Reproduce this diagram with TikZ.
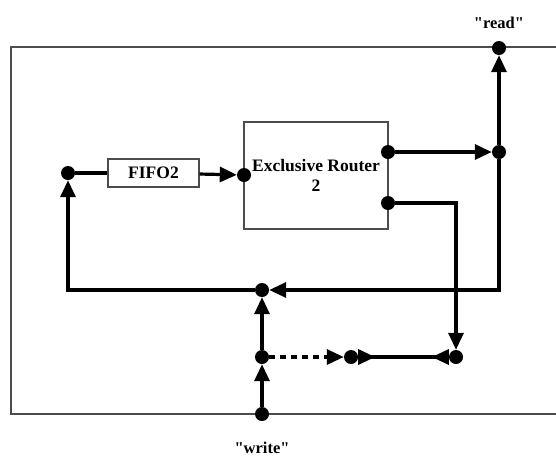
\documentclass[tikz,border=0pt]{standalone}
\usepackage{fontspec}
\newfontfamily\lblfont{Liberation Serif}
\usetikzlibrary{arrows.meta}

\begin{document}
\begin{tikzpicture}[x=1pt,y=-1pt,
  conn/.style={line width=3.2pt},
  tip/.style={-{Triangle[length=17pt,width=15pt]}},
  port/.style={circle,fill,inner sep=0pt,minimum size=14pt},
  blockbox/.style={draw=black!70,line width=1.3pt,fill=white,font=\lblfont\bfseries\fontsize{17.5}{20}\selectfont,align=center},
  every node/.append style={font=\lblfont\bfseries\fontsize{16.5}{19}\selectfont}]
  \useasboundingbox (0,0) rectangle (556,459);
  % outer frame, open on the right
  \draw[black!70,line width=1.3pt] (556,47) -- (11,47) -- (11,414) -- (556,414);

  \node[blockbox,minimum width=144pt,minimum height=107pt] (router) at (316,175.5) {Exclusive Router\\2};
  \node[blockbox,minimum width=91pt,minimum height=28pt] (fifo) at (153.5,173) {FIFO2};

  \node[port] (readpt) at (499,48) {};
  \node[above=16pt] at (readpt) {"read"};
  \node[port] (writept) at (262,414) {};
  \node[below=25pt] at (writept) {"write"};

  \node[port] (rin) at (244,175) {};
  \node[port] (rout1) at (388,152) {};
  \node[port] (rout2) at (388,203) {};
  \node[port] (rjoin) at (499,152) {};
  \node[port] (lpt) at (68,173) {};
  \node[port] (merge) at (262,290) {};
  \node[port] (mid) at (262,357) {};
  \node[port] (dpt) at (351,357) {};
  \node[port] (rpt) at (456,357) {};

  \draw[conn] (lpt) -- (fifo);
  \draw[conn,tip] (fifo) -- (rin);
  \draw[conn,tip] (rout1) -- (rjoin);
  \draw[conn,tip] (rjoin) -- (readpt);
  \draw[conn,tip] (rjoin) |- (merge);
  \draw[conn,tip] (merge) -| (lpt);
  \draw[conn,tip] (rout2) -| (rpt);
  \draw[conn,tip] (writept) -- (mid);
  \draw[conn,tip] (mid) -- (merge);
  \draw[conn,tip,dash pattern=on 6pt off 5pt] (mid) -- (dpt);
  \draw[conn,{Triangle[length=17pt,width=15pt,reversed]}-{Triangle[length=17pt,width=15pt,reversed]}] (dpt) -- (rpt);
\end{tikzpicture}
\end{document}
